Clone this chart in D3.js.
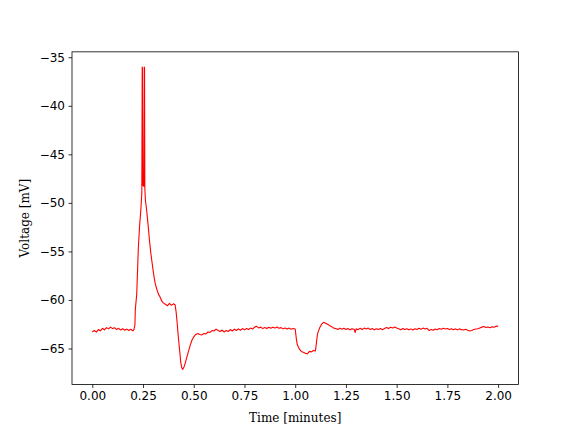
<!DOCTYPE html>
<html>
<head>
<meta charset="utf-8">
<script src="https://cdn.jsdelivr.net/npm/d3@7"></script>
<style>
  body { margin: 0; background: #fff; }
  .tick text { font-family: "DejaVu Sans", sans-serif; font-size: 12px; fill: #000; }
  .axis-label { font-family: "DejaVu Serif", serif; font-size: 12px; fill: #000; }
</style>
</head>
<body>
<script>
// time in minutes
var time = [
  0.00, 0.01, 0.02, 0.03, 0.04, 0.05, 0.06, 0.07, 0.08, 0.09,
  0.10, 0.11, 0.12, 0.13, 0.14, 0.15, 0.16, 0.17, 0.18, 0.19,
  0.20, 0.205, 0.21, 0.212, 0.219, 0.223, 0.227, 0.233, 0.239, 0.244,
  0.246, 0.247, 0.249, 0.251, 0.254, 0.256, 0.2575, 0.259, 0.262, 0.266,
  0.270, 0.276, 0.282, 0.288, 0.293, 0.300, 0.305, 0.310, 0.318, 0.326,
  0.334, 0.342, 0.350, 0.36, 0.37, 0.38, 0.39, 0.40, 0.408, 0.413,
  0.418, 0.424, 0.430, 0.436, 0.441, 0.446, 0.452, 0.458, 0.466, 0.474,
  0.482, 0.49, 0.50, 0.51, 0.52, 0.53, 0.54, 0.55, 0.56, 0.57,
  0.58, 0.59, 0.60, 0.61, 0.62, 0.63, 0.64, 0.65, 0.66, 0.67,
  0.68, 0.69, 0.70, 0.71, 0.72, 0.73, 0.74, 0.75, 0.76, 0.77,
  0.78, 0.79, 0.80, 0.81, 0.82, 0.83, 0.84, 0.85, 0.86, 0.87,
  0.88, 0.89, 0.90, 0.91, 0.92, 0.93, 0.94, 0.95, 0.96, 0.97,
  0.98, 0.99, 1.000, 1.005, 1.010, 1.02, 1.03, 1.04, 1.05, 1.06,
  1.07, 1.08, 1.09, 1.10, 1.105, 1.11, 1.12, 1.13, 1.14, 1.15,
  1.16, 1.17, 1.18, 1.19, 1.20, 1.21, 1.22, 1.23, 1.24, 1.25,
  1.26, 1.27, 1.28, 1.29, 1.296, 1.30, 1.31, 1.32, 1.33, 1.34,
  1.35, 1.36, 1.37, 1.38, 1.39, 1.40, 1.41, 1.42, 1.43, 1.44,
  1.45, 1.46, 1.47, 1.48, 1.49, 1.50, 1.51, 1.52, 1.53, 1.54,
  1.55, 1.56, 1.57, 1.58, 1.59, 1.60, 1.61, 1.62, 1.63, 1.64,
  1.65, 1.66, 1.67, 1.68, 1.69, 1.70, 1.71, 1.72, 1.73, 1.74,
  1.75, 1.76, 1.77, 1.78, 1.79, 1.80, 1.81, 1.82, 1.83, 1.84,
  1.85, 1.86, 1.87, 1.88, 1.89, 1.90, 1.91, 1.92, 1.93, 1.94,
  1.95, 1.96, 1.97, 1.98, 1.99, 2.00
];

// membrane voltage in mV
var voltage = [
  -63.30, -63.15, -63.32, -63.05, -63.18, -62.92, -63.08, -62.85, -62.98, -62.80,
  -62.95, -62.86, -63.05, -62.92, -63.10, -62.96, -63.12, -63.00, -63.15, -63.02,
  -63.18, -63.05, -62.60, -61.00, -59.40, -57.00, -54.60, -52.40, -50.80, -49.00,
  -36.00, -36.10, -48.20, -47.60, -48.30, -36.00, -36.10, -48.50, -49.80, -50.40,
  -51.20, -52.50, -53.90, -55.10, -55.90, -57.00, -57.70, -58.30, -58.90, -59.40,
  -59.70, -60.10, -60.30, -60.45, -60.60, -60.35, -60.55, -60.40, -60.50, -61.20,
  -62.30, -63.80, -65.10, -66.40, -67.00, -67.15, -66.90, -66.50, -65.90, -65.30,
  -64.70, -64.20, -63.80, -63.55, -63.45, -63.55, -63.60, -63.45, -63.50, -63.30,
  -63.35, -63.15, -63.20, -63.00, -63.15, -63.25, -63.10, -63.30, -63.15, -63.25,
  -63.05, -63.20, -63.00, -63.15, -62.98, -63.12, -62.95, -63.08, -62.95, -63.05,
  -62.90, -63.00, -62.80, -62.72, -62.88, -62.80, -62.95, -62.85, -62.95, -62.82,
  -62.92, -62.80, -62.90, -62.78, -62.92, -62.85, -62.98, -62.88, -63.00, -62.90,
  -63.02, -62.95, -63.00, -63.90, -64.60, -65.05, -65.30, -65.40, -65.50, -65.55,
  -65.30, -65.35, -65.20, -65.25, -64.30, -63.50, -62.90, -62.50, -62.30, -62.40,
  -62.50, -62.65, -62.75, -62.90, -62.95, -63.05, -62.90, -63.02, -62.92, -63.05,
  -62.95, -63.08, -62.96, -63.02, -63.35, -62.98, -63.06, -62.92, -63.04, -62.90,
  -63.00, -62.90, -63.05, -62.95, -63.08, -62.96, -63.04, -62.94, -63.06, -62.95,
  -62.85, -62.95, -62.82, -62.90, -62.78, -62.88, -62.96, -63.06, -62.94, -63.05,
  -62.96, -63.08, -62.98, -63.10, -62.96, -63.04, -62.92, -63.02, -62.90, -63.00,
  -62.92, -63.15, -63.05, -63.12, -63.00, -63.06, -62.94, -63.02, -62.92, -63.00,
  -62.94, -63.04, -62.96, -63.06, -62.98, -63.08, -62.98, -63.06, -63.10, -63.02,
  -63.12, -63.20, -63.14, -63.05, -63.00, -62.96, -62.88, -62.80, -62.74, -62.84,
  -62.78, -62.86, -62.76, -62.82, -62.72, -62.70
];

var xTicks = [0.00, 0.25, 0.50, 0.75, 1.00, 1.25, 1.50, 1.75, 2.00];
var yTicks = [-65, -60, -55, -50, -45, -40, -35];

var margin = {top: 51.84, right: 57.6, bottom: 47.52, left: 72},
    W = 576, H = 432,
    width = W - margin.left - margin.right,
    height = H - margin.top - margin.bottom;

var data = time.map(function(t, i) { return {t: t, v: voltage[i]}; });

// matplotlib style 5% padding
var xExt = d3.extent(time), yExt = d3.extent(voltage);
var xPad = (xExt[1] - xExt[0]) * 0.05, yPad = (yExt[1] - yExt[0]) * 0.05;

var xScale = d3.scaleLinear().domain([xExt[0] - xPad, xExt[1] + xPad]).range([0, width]);
var yScale = d3.scaleLinear().domain([yExt[0] - yPad, yExt[1] + yPad]).range([height, 0]);

var svg = d3.select("body").append("svg")
    .attr("width", W)
    .attr("height", H)
  .append("g")
    .attr("transform", "translate(" + margin.left + "," + margin.top + ")");

// trace
var line = d3.line()
    .x(function(d) { return xScale(d.t); })
    .y(function(d) { return yScale(d.v); });

svg.append("path")
    .datum(data)
    .attr("fill", "none")
    .attr("stroke", "red")
    .attr("stroke-width", 1.1)
    .attr("stroke-linejoin", "round")
    .attr("d", line);

var minus = function(d) { return d < 0 ? "\u2212" + Math.abs(d) : "" + d; };

// x axis
var xAxis = svg.append("g")
    .attr("transform", "translate(0," + height + ")")
    .call(d3.axisBottom(xScale).tickValues(xTicks).tickFormat(d3.format(".2f"))
      .tickSize(3.5).tickPadding(3.5));

// y axis
var yAxis = svg.append("g")
    .call(d3.axisLeft(yScale).tickValues(yTicks).tickFormat(minus)
      .tickSize(3.5).tickPadding(3.5));

[xAxis, yAxis].forEach(function(a) {
  a.select(".domain").remove();
  a.selectAll(".tick line").attr("stroke", "#000").attr("stroke-width", 0.8);
});

// frame
svg.append("rect")
    .attr("width", width)
    .attr("height", height)
    .attr("fill", "none")
    .attr("stroke", "#000")
    .attr("stroke-width", 0.8);

// labels
svg.append("text")
    .attr("class", "axis-label")
    .attr("x", width / 2)
    .attr("y", height + 38)
    .attr("text-anchor", "middle")
    .text("Time [minutes]");

svg.append("text")
    .attr("class", "axis-label")
    .attr("transform", "translate(" + (-43) + "," + (height / 2) + ") rotate(-90)")
    .attr("text-anchor", "middle")
    .text("Voltage [mV]");
</script>
</body>
</html>
